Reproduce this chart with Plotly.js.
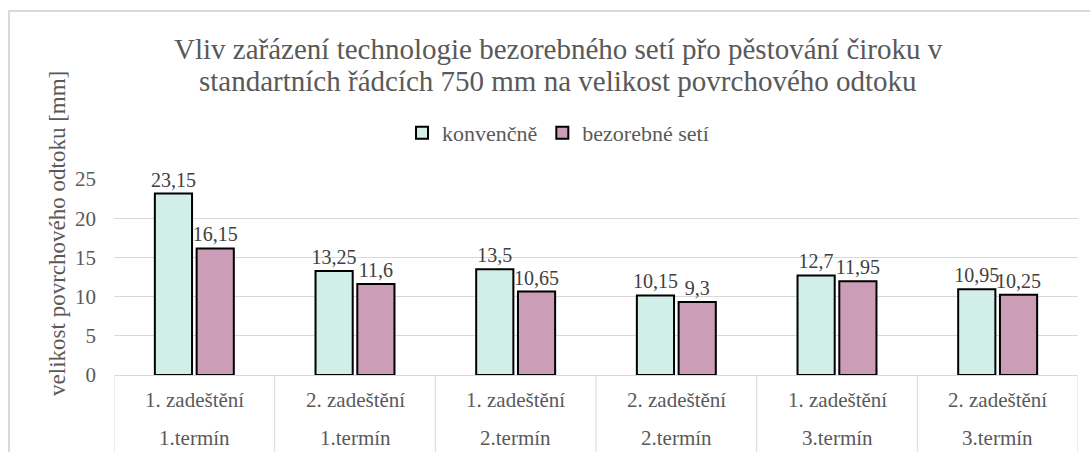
<!DOCTYPE html>
<html>
<head>
<meta charset="utf-8">
<script src="https://cdn.plot.ly/plotly-3.0.1.min.js"></script>
<style>
  html, body { margin: 0; padding: 0; background: #ffffff; overflow: hidden; }
  #wrap { position: relative; width: 1090px; height: 452px; }
  #chart { width: 1090px; height: 452px; }
  #frame { position: absolute; left: 8px; top: 10px; width: 1100px; height: 460px;
           border: 2px solid #d9d9d9; box-sizing: border-box; pointer-events: none; }
</style>
</head>
<body>
<div id="wrap">
  <div id="chart"></div>
  <div id="frame"></div>
</div>
<script>
// ---- data ----
const innerLabels = ["1. zadeštění", "2. zadeštění", "1. zadeštění", "2. zadeštění", "1. zadeštění", "2. zadeštění"];
const outerLabels = ["1.termín", "1.termín", "2.termín", "2.termín", "3.termín", "3.termín"];
const seriesNames = ["konvenčně", "bezorebné setí"];
const konvencne = [23.15, 13.25, 13.5, 10.15, 12.7, 10.95];
const bezorebne = [16.15, 11.6, 10.65, 9.3, 11.95, 10.25];
const yTicks = [0, 5, 10, 15, 20, 25];
const titleLines = ["Vliv zařázení technologie bezorebného setí přo pěstování čiroku v",
                    "standartních řádcích 750 mm na velikost povrchového odtoku"];
const yTitleText = "velikost povrchového odtoku [mm]";

const FONT = "Liberation Serif";
const GRAY = "#595959";
const xIdx = innerLabels.map((_, i) => i);
const fmt = v => String(v).replace(".", ",");

function barTrace(name, vals, color) {
  return {
    type: "bar", name: name, x: xIdx, y: vals,
    text: vals.map(fmt), textposition: "outside", cliponaxis: false, constraintext: "none",
    textfont: { family: FONT, size: 20, color: "#404040" },
    marker: { color: color, line: { color: "#000000", width: 2 } },
    hoverinfo: "skip"
  };
}

const data = [
  barTrace(seriesNames[0], konvencne, "#d2eee9"),
  barTrace(seriesNames[1], bezorebne, "#cc9db6")
];

const shapes = [];
for (let i = 0; i <= xIdx.length; i++) {
  shapes.push({ type: "line", xref: "x", yref: "paper", x0: i - 0.5, x1: i - 0.5, y0: 0, y1: -0.6,
                line: { color: "#d9d9d9", width: 1 } });
}
const annotations = [];
xIdx.forEach(i => {
  annotations.push({ xref: "x", yref: "paper", x: i, y: 0, yshift: -25, yanchor: "middle", showarrow: false,
                     text: innerLabels[i], font: { family: FONT, size: 21, color: GRAY } });
  annotations.push({ xref: "x", yref: "paper", x: i, y: 0, yshift: -63, yanchor: "middle", showarrow: false,
                     text: outerLabels[i], font: { family: FONT, size: 21, color: GRAY } });
});
// y-axis title
annotations.push({ xref: "paper", yref: "paper", x: 0, xshift: -56, y: 0.72, textangle: -90,
                   xanchor: "center", yanchor: "middle", showarrow: false,
                   text: yTitleText, font: { family: FONT, size: 23, color: GRAY } });
// chart title (two lines)
titleLines.forEach((t, k) => {
  annotations.push({ xref: "paper", yref: "paper", x: 0.4606, xanchor: "center",
                     y: 1, yanchor: "middle", yshift: (179 - 49) - 32 * k,
                     showarrow: false, text: t, font: { family: FONT, size: 29, color: GRAY } });
});

const layout = {
  width: 1090, height: 452,
  margin: { l: 114, r: 12, t: 179, b: 77 },
  paper_bgcolor: "rgba(0,0,0,0)", plot_bgcolor: "#ffffff",
  font: { family: FONT, color: GRAY },
  barmode: "group", bargap: 0.48, bargroupgap: 0.11,
  showlegend: true,
  legend: { orientation: "h", x: 0.4606, xanchor: "center", y: 1.235, yanchor: "middle",
            font: { family: FONT, size: 22, color: GRAY }, itemwidth: 30 },
  xaxis: { type: "linear", range: [-0.5, xIdx.length - 0.5], showticklabels: false, showgrid: false,
           zeroline: false, showline: true, linecolor: "#d9d9d9", linewidth: 1, fixedrange: true },
  yaxis: { range: [0, 25], tickvals: yTicks, ticktext: yTicks.map(String), showgrid: true,
           gridcolor: "#d9d9d9", gridwidth: 1, zeroline: false, showline: false,
           tickfont: { family: FONT, size: 21, color: GRAY }, ticklabelstandoff: 17, fixedrange: true },
  shapes: shapes, annotations: annotations
};

Plotly.newPlot("chart", data, layout, { displayModeBar: false, staticPlot: true });
</script>
</body>
</html>
